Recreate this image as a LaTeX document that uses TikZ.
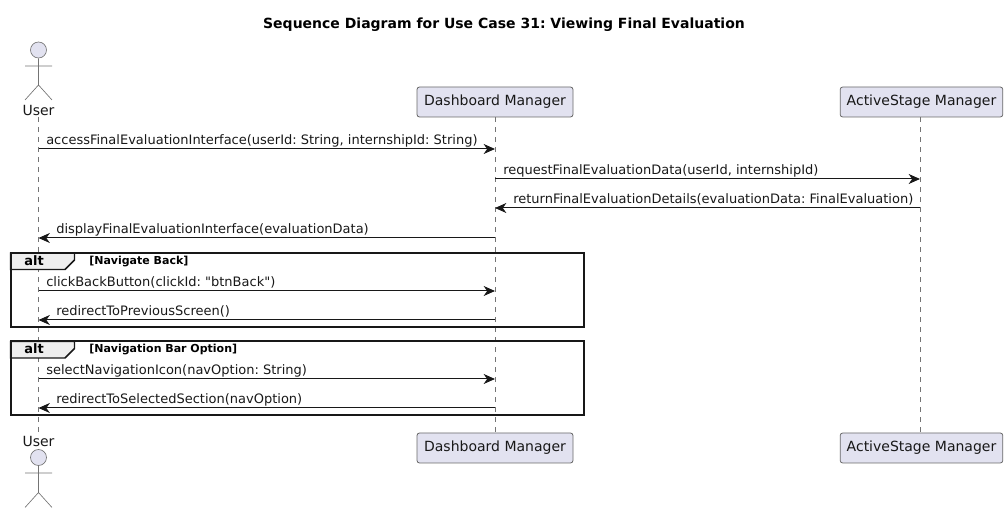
\documentclass[tikz,border=0pt]{standalone}
\usepackage{fontspec}
\setmainfont{DejaVu Sans}
\newfontfamily\rawfont{DejaVu Sans}
\usetikzlibrary{arrows.meta}
\definecolor{partfill}{HTML}{E2E2F0}
\definecolor{partline}{HTML}{181818}
\definecolor{tabfill}{HTML}{EEEEEE}
\tikzset{
  participant/.style={draw=partline!65,fill=partfill,rounded corners=1.9pt,line width=0.6pt,inner sep=0pt,
    minimum height=22.5pt,font=\fontsize{10.5pt}{12pt}\selectfont,text=partline},
  actorname/.style={inner sep=1pt,font=\fontsize{10.5pt}{12pt}\selectfont,text=partline},
  actorhead/.style={circle,draw=partline!60,fill=partfill,line width=0.5pt,inner sep=0pt,minimum size=12pt},
  actorline/.style={draw=partline!60,line width=0.5pt},
  lifeline/.style={draw=partline!60,line width=0.5pt,dash pattern=on 3.75pt off 3.75pt},
  msg/.style={-{Stealth[length=8.5pt,width=7.5pt,inset=2.6pt]},draw=partline,line width=0.75pt},
  msgtext/.style={anchor=base west,inner sep=0pt,font=\fontsize{9.75pt}{12pt}\rawfont\frenchspacing,text=partline},
  altframe/.style={draw=partline,line width=1.5pt},
  alttab/.style={draw=partline,fill=tabfill,line width=1.1pt},
  altname/.style={anchor=base,inner sep=0pt,font=\fontsize{9.75pt}{12pt}\selectfont\bfseries},
  altguard/.style={anchor=base west,inner sep=0pt,font=\fontsize{8.25pt}{10pt}\selectfont\bfseries\frenchspacing}
}
\begin{document}
\begin{tikzpicture}[x=0.75pt,y=-0.75pt]
  \useasboundingbox (0,0) rectangle (1008,513);
  \node[anchor=base,inner sep=0pt,font=\fontsize{10.5pt}{12pt}\selectfont\bfseries\frenchspacing] (title) at (504,29) {Sequence Diagram for Use Case 31: Viewing Final Evaluation};
  % participants
  \node[actorname] (user-top)  at (38.5,110) {User};
  \node[actorname] (user-bot)  at (38.5,441) {User};
  \node[participant,minimum width=117pt] (dash-top) at (495,102) {Dashboard Manager};
  \node[participant,minimum width=117pt] (dash-bot) at (495,448) {Dashboard Manager};
  \node[participant,minimum width=122pt] (stage-top) at (921.5,102) {ActiveStage Manager};
  \node[participant,minimum width=122pt] (stage-bot) at (921.5,448) {ActiveStage Manager};
  % end points of the messages
  \coordinate (u1) at (38.5,149);  \coordinate (d1) at (495,149);
  \coordinate (d2) at (495,179);   \coordinate (s2) at (920,179);
  \coordinate (d3) at (495,208);   \coordinate (s3) at (920,208);
  \coordinate (u4) at (38.5,238);  \coordinate (d4) at (495,238);
  \coordinate (u5) at (38.5,291);  \coordinate (d5) at (495,291);
  \coordinate (u6) at (38.5,320);  \coordinate (d6) at (495,320);
  \coordinate (u7) at (38.5,379);  \coordinate (d7) at (495,379);
  \coordinate (u8) at (38.5,408);  \coordinate (d8) at (495,408);
  % lifelines
  \draw[lifeline] (user-top.south) -- (user-bot.north);
  \draw[lifeline] (dash-top) -- (dash-bot);
  \draw[lifeline] (stage-top.south -| s2) -- (stage-bot.north -| s2);
  % actors
  \node[actorhead] (head-top) at (38.5,50) {};
  \draw[actorline] (head-top.south) -- (38.5,85) -- (25,100) (38.5,85) -- (52,100) (25,66) -- (52,66);
  \node[actorhead] (head-bot) at (38.5,457.5) {};
  \draw[actorline] (head-bot.south) -- (38.5,492.5) -- (25,507.5) (38.5,492.5) -- (52,507.5) (25,473) -- (52,473);
  \path
  (u1) edge[msg] (d1)
  (d2) edge[msg] (s2)
  (s3) edge[msg] (d3)
  (d4) edge[msg] (u4)
  (u5) edge[msg] (d5)
  (d6) edge[msg] (u6)
  (u7) edge[msg] (d7)
  (d8) edge[msg] (u8);
  \node[msgtext] (m1) at (46,145)  {accessFinalEvaluationInterface(userId: String, internshipId: String)};
  \node[msgtext] (m2) at (503,175) {requestFinalEvaluationData(userId, internshipId)};
  \node[msgtext] (m3) at (513,204) {returnFinalEvaluationDetails(evaluationData: FinalEvaluation)};
  \node[msgtext] (m4) at (56,234)  {displayFinalEvaluationInterface(evaluationData)};
  \node[msgtext] (m5) at (46,287)  {clickBackButton(clickId: "btnBack")};
  \node[msgtext] (m6) at (56,316)  {redirectToPreviousScreen()};
  \node[msgtext] (m7) at (46,375)  {selectNavigationIcon(navOption: String)};
  \node[msgtext] (m8) at (56,404)  {redirectToSelectedSection(navOption)};
  % alt frames
  \draw[alttab] (10.5,253) -- (74.5,253) -- (74.5,260) -- (65,269.5) -- (10.5,269.5) -- cycle;
  \draw[altframe] (10.5,253) rectangle (583.5,327.5);
  \node[altname] (alt1) at (34,265.5) {alt};
  \node[altguard] (guard1) at (89,264.5) {[Navigate Back]};
  \draw[alttab] (10.5,341.5) -- (74.5,341.5) -- (74.5,348.5) -- (65,358) -- (10.5,358) -- cycle;
  \draw[altframe] (10.5,341.5) rectangle (583.5,415.5);
  \node[altname] (alt2) at (34,354) {alt};
  \node[altguard] (guard2) at (89,353) {[Navigation Bar Option]};
\end{tikzpicture}
\end{document}
